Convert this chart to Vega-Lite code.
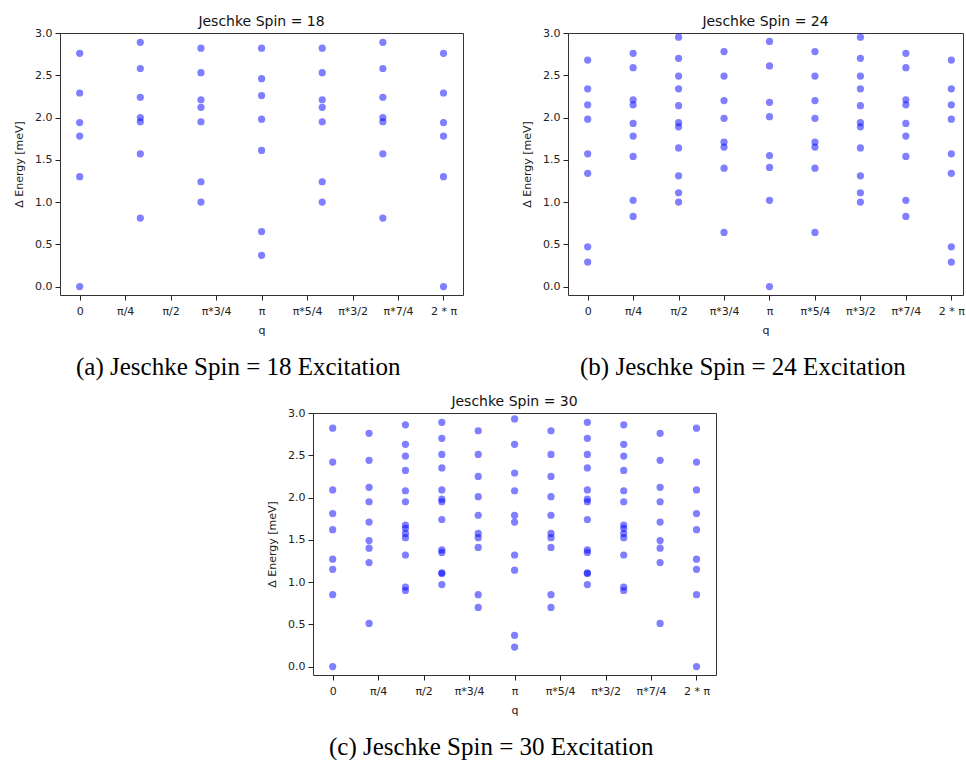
{
  "$schema": "https://vega.github.io/schema/vega-lite/v6.json",
  "padding": {"left": 13, "top": 14, "right": 0, "bottom": 0},
  "config": {
    "font": "DejaVu Sans",
    "axis": {"labelFont": "DejaVu Sans", "labelFontSize": 11, "labelColor": "#222", "tickColor": "#222", "domain": false, "grid": false, "titleFont": "DejaVu Sans", "titleFontSize": 11, "titleFontWeight": "normal", "titleColor": "#222", "tickSize": 5, "labelPadding": 3},
    "axisX": {"labelPadding": 5, "titlePadding": 8},
    "view": {"stroke": "#333", "strokeWidth": 1},
    "title": {"font": "DejaVu Sans", "fontSize": 14, "fontWeight": "normal", "color": "#111"},
    "concat": {"spacing": 0}
  },
  "data": {"values": [
    {"spin": 18, "q": 0, "E": 3.04}, {"spin": 18, "q": 0, "E": 2.76}, {"spin": 18, "q": 0, "E": 2.29}, {"spin": 18, "q": 0, "E": 1.94}, {"spin": 18, "q": 0, "E": 1.78}, {"spin": 18, "q": 0, "E": 1.30}, {"spin": 18, "q": 0, "E": 0.0},
    {"spin": 18, "q": 1.0472, "E": 2.89}, {"spin": 18, "q": 1.0472, "E": 2.58}, {"spin": 18, "q": 1.0472, "E": 2.24}, {"spin": 18, "q": 1.0472, "E": 2.0}, {"spin": 18, "q": 1.0472, "E": 1.95}, {"spin": 18, "q": 1.0472, "E": 1.57}, {"spin": 18, "q": 1.0472, "E": 0.81},
    {"spin": 18, "q": 2.0944, "E": 2.82}, {"spin": 18, "q": 2.0944, "E": 2.53}, {"spin": 18, "q": 2.0944, "E": 2.21}, {"spin": 18, "q": 2.0944, "E": 2.12}, {"spin": 18, "q": 2.0944, "E": 1.95}, {"spin": 18, "q": 2.0944, "E": 1.24}, {"spin": 18, "q": 2.0944, "E": 1.0},
    {"spin": 18, "q": 3.1416, "E": 2.82}, {"spin": 18, "q": 3.1416, "E": 2.46}, {"spin": 18, "q": 3.1416, "E": 2.26}, {"spin": 18, "q": 3.1416, "E": 1.98}, {"spin": 18, "q": 3.1416, "E": 1.61}, {"spin": 18, "q": 3.1416, "E": 0.65}, {"spin": 18, "q": 3.1416, "E": 0.37},
    {"spin": 18, "q": 4.1888, "E": 2.82}, {"spin": 18, "q": 4.1888, "E": 2.53}, {"spin": 18, "q": 4.1888, "E": 2.21}, {"spin": 18, "q": 4.1888, "E": 2.12}, {"spin": 18, "q": 4.1888, "E": 1.95}, {"spin": 18, "q": 4.1888, "E": 1.24}, {"spin": 18, "q": 4.1888, "E": 1.0},
    {"spin": 18, "q": 5.236, "E": 2.89}, {"spin": 18, "q": 5.236, "E": 2.58}, {"spin": 18, "q": 5.236, "E": 2.24}, {"spin": 18, "q": 5.236, "E": 2.0}, {"spin": 18, "q": 5.236, "E": 1.95}, {"spin": 18, "q": 5.236, "E": 1.57}, {"spin": 18, "q": 5.236, "E": 0.81},
    {"spin": 18, "q": 6.2832, "E": 3.04}, {"spin": 18, "q": 6.2832, "E": 2.76}, {"spin": 18, "q": 6.2832, "E": 2.29}, {"spin": 18, "q": 6.2832, "E": 1.94}, {"spin": 18, "q": 6.2832, "E": 1.78}, {"spin": 18, "q": 6.2832, "E": 1.30}, {"spin": 18, "q": 6.2832, "E": 0.0},

    {"spin": 24, "q": 0, "E": 3.04}, {"spin": 24, "q": 0, "E": 2.68}, {"spin": 24, "q": 0, "E": 2.34}, {"spin": 24, "q": 0, "E": 2.15}, {"spin": 24, "q": 0, "E": 1.98}, {"spin": 24, "q": 0, "E": 1.57}, {"spin": 24, "q": 0, "E": 1.34}, {"spin": 24, "q": 0, "E": 0.47}, {"spin": 24, "q": 0, "E": 0.29},
    {"spin": 24, "q": 0.7854, "E": 3.04}, {"spin": 24, "q": 0.7854, "E": 2.76}, {"spin": 24, "q": 0.7854, "E": 2.59}, {"spin": 24, "q": 0.7854, "E": 2.21}, {"spin": 24, "q": 0.7854, "E": 2.15}, {"spin": 24, "q": 0.7854, "E": 1.93}, {"spin": 24, "q": 0.7854, "E": 1.78}, {"spin": 24, "q": 0.7854, "E": 1.54}, {"spin": 24, "q": 0.7854, "E": 1.02}, {"spin": 24, "q": 0.7854, "E": 0.83},
    {"spin": 24, "q": 1.5708, "E": 2.95}, {"spin": 24, "q": 1.5708, "E": 2.70}, {"spin": 24, "q": 1.5708, "E": 2.49}, {"spin": 24, "q": 1.5708, "E": 2.34}, {"spin": 24, "q": 1.5708, "E": 2.14}, {"spin": 24, "q": 1.5708, "E": 1.94}, {"spin": 24, "q": 1.5708, "E": 1.89}, {"spin": 24, "q": 1.5708, "E": 1.64}, {"spin": 24, "q": 1.5708, "E": 1.31}, {"spin": 24, "q": 1.5708, "E": 1.11}, {"spin": 24, "q": 1.5708, "E": 1.0},
    {"spin": 24, "q": 2.3562, "E": 2.78}, {"spin": 24, "q": 2.3562, "E": 2.49}, {"spin": 24, "q": 2.3562, "E": 2.20}, {"spin": 24, "q": 2.3562, "E": 1.99}, {"spin": 24, "q": 2.3562, "E": 1.71}, {"spin": 24, "q": 2.3562, "E": 1.65}, {"spin": 24, "q": 2.3562, "E": 1.40}, {"spin": 24, "q": 2.3562, "E": 0.64},
    {"spin": 24, "q": 3.1416, "E": 2.90}, {"spin": 24, "q": 3.1416, "E": 2.61}, {"spin": 24, "q": 3.1416, "E": 2.18}, {"spin": 24, "q": 3.1416, "E": 2.01}, {"spin": 24, "q": 3.1416, "E": 1.55}, {"spin": 24, "q": 3.1416, "E": 1.41}, {"spin": 24, "q": 3.1416, "E": 1.02}, {"spin": 24, "q": 3.1416, "E": 0.0},
    {"spin": 24, "q": 3.927, "E": 2.78}, {"spin": 24, "q": 3.927, "E": 2.49}, {"spin": 24, "q": 3.927, "E": 2.20}, {"spin": 24, "q": 3.927, "E": 1.99}, {"spin": 24, "q": 3.927, "E": 1.71}, {"spin": 24, "q": 3.927, "E": 1.65}, {"spin": 24, "q": 3.927, "E": 1.40}, {"spin": 24, "q": 3.927, "E": 0.64},
    {"spin": 24, "q": 4.7124, "E": 2.95}, {"spin": 24, "q": 4.7124, "E": 2.70}, {"spin": 24, "q": 4.7124, "E": 2.49}, {"spin": 24, "q": 4.7124, "E": 2.34}, {"spin": 24, "q": 4.7124, "E": 2.14}, {"spin": 24, "q": 4.7124, "E": 1.94}, {"spin": 24, "q": 4.7124, "E": 1.89}, {"spin": 24, "q": 4.7124, "E": 1.64}, {"spin": 24, "q": 4.7124, "E": 1.31}, {"spin": 24, "q": 4.7124, "E": 1.11}, {"spin": 24, "q": 4.7124, "E": 1.0},
    {"spin": 24, "q": 5.4978, "E": 3.04}, {"spin": 24, "q": 5.4978, "E": 2.76}, {"spin": 24, "q": 5.4978, "E": 2.59}, {"spin": 24, "q": 5.4978, "E": 2.21}, {"spin": 24, "q": 5.4978, "E": 2.15}, {"spin": 24, "q": 5.4978, "E": 1.93}, {"spin": 24, "q": 5.4978, "E": 1.78}, {"spin": 24, "q": 5.4978, "E": 1.54}, {"spin": 24, "q": 5.4978, "E": 1.02}, {"spin": 24, "q": 5.4978, "E": 0.83},
    {"spin": 24, "q": 6.2832, "E": 3.04}, {"spin": 24, "q": 6.2832, "E": 2.68}, {"spin": 24, "q": 6.2832, "E": 2.34}, {"spin": 24, "q": 6.2832, "E": 2.15}, {"spin": 24, "q": 6.2832, "E": 1.98}, {"spin": 24, "q": 6.2832, "E": 1.57}, {"spin": 24, "q": 6.2832, "E": 1.34}, {"spin": 24, "q": 6.2832, "E": 0.47}, {"spin": 24, "q": 6.2832, "E": 0.29},

    {"spin": 30, "q": 0, "E": 2.82}, {"spin": 30, "q": 0, "E": 2.42}, {"spin": 30, "q": 0, "E": 2.09}, {"spin": 30, "q": 0, "E": 1.81}, {"spin": 30, "q": 0, "E": 1.62}, {"spin": 30, "q": 0, "E": 1.27}, {"spin": 30, "q": 0, "E": 1.15}, {"spin": 30, "q": 0, "E": 0.85}, {"spin": 30, "q": 0, "E": 0.0},
    {"spin": 30, "q": 0.6283, "E": 2.76}, {"spin": 30, "q": 0.6283, "E": 2.44}, {"spin": 30, "q": 0.6283, "E": 2.12}, {"spin": 30, "q": 0.6283, "E": 1.95}, {"spin": 30, "q": 0.6283, "E": 1.71}, {"spin": 30, "q": 0.6283, "E": 1.49}, {"spin": 30, "q": 0.6283, "E": 1.40}, {"spin": 30, "q": 0.6283, "E": 1.23}, {"spin": 30, "q": 0.6283, "E": 0.51},
    {"spin": 30, "q": 1.2566, "E": 2.86}, {"spin": 30, "q": 1.2566, "E": 2.63}, {"spin": 30, "q": 1.2566, "E": 2.49}, {"spin": 30, "q": 1.2566, "E": 2.32}, {"spin": 30, "q": 1.2566, "E": 2.08}, {"spin": 30, "q": 1.2566, "E": 1.95}, {"spin": 30, "q": 1.2566, "E": 1.675}, {"spin": 30, "q": 1.2566, "E": 1.635}, {"spin": 30, "q": 1.2566, "E": 1.575}, {"spin": 30, "q": 1.2566, "E": 1.525}, {"spin": 30, "q": 1.2566, "E": 1.32}, {"spin": 30, "q": 1.2566, "E": 0.94}, {"spin": 30, "q": 1.2566, "E": 0.90},
    {"spin": 30, "q": 1.885, "E": 2.89}, {"spin": 30, "q": 1.885, "E": 2.70}, {"spin": 30, "q": 1.885, "E": 2.51}, {"spin": 30, "q": 1.885, "E": 2.35}, {"spin": 30, "q": 1.885, "E": 2.09}, {"spin": 30, "q": 1.885, "E": 1.98}, {"spin": 30, "q": 1.885, "E": 1.95}, {"spin": 30, "q": 1.885, "E": 1.74}, {"spin": 30, "q": 1.885, "E": 1.38}, {"spin": 30, "q": 1.885, "E": 1.35}, {"spin": 30, "q": 1.885, "E": 1.11}, {"spin": 30, "q": 1.885, "E": 1.10}, {"spin": 30, "q": 1.885, "E": 0.97},
    {"spin": 30, "q": 2.5133, "E": 2.79}, {"spin": 30, "q": 2.5133, "E": 2.51}, {"spin": 30, "q": 2.5133, "E": 2.25}, {"spin": 30, "q": 2.5133, "E": 2.01}, {"spin": 30, "q": 2.5133, "E": 1.79}, {"spin": 30, "q": 2.5133, "E": 1.575}, {"spin": 30, "q": 2.5133, "E": 1.525}, {"spin": 30, "q": 2.5133, "E": 1.41}, {"spin": 30, "q": 2.5133, "E": 0.85}, {"spin": 30, "q": 2.5133, "E": 0.70},
    {"spin": 30, "q": 3.1416, "E": 2.93}, {"spin": 30, "q": 3.1416, "E": 2.63}, {"spin": 30, "q": 3.1416, "E": 2.29}, {"spin": 30, "q": 3.1416, "E": 2.08}, {"spin": 30, "q": 3.1416, "E": 1.79}, {"spin": 30, "q": 3.1416, "E": 1.71}, {"spin": 30, "q": 3.1416, "E": 1.32}, {"spin": 30, "q": 3.1416, "E": 1.14}, {"spin": 30, "q": 3.1416, "E": 0.37}, {"spin": 30, "q": 3.1416, "E": 0.23},
    {"spin": 30, "q": 3.7699, "E": 2.79}, {"spin": 30, "q": 3.7699, "E": 2.51}, {"spin": 30, "q": 3.7699, "E": 2.25}, {"spin": 30, "q": 3.7699, "E": 2.01}, {"spin": 30, "q": 3.7699, "E": 1.79}, {"spin": 30, "q": 3.7699, "E": 1.575}, {"spin": 30, "q": 3.7699, "E": 1.525}, {"spin": 30, "q": 3.7699, "E": 1.41}, {"spin": 30, "q": 3.7699, "E": 0.85}, {"spin": 30, "q": 3.7699, "E": 0.70},
    {"spin": 30, "q": 4.3982, "E": 2.89}, {"spin": 30, "q": 4.3982, "E": 2.70}, {"spin": 30, "q": 4.3982, "E": 2.51}, {"spin": 30, "q": 4.3982, "E": 2.35}, {"spin": 30, "q": 4.3982, "E": 2.09}, {"spin": 30, "q": 4.3982, "E": 1.98}, {"spin": 30, "q": 4.3982, "E": 1.95}, {"spin": 30, "q": 4.3982, "E": 1.74}, {"spin": 30, "q": 4.3982, "E": 1.38}, {"spin": 30, "q": 4.3982, "E": 1.35}, {"spin": 30, "q": 4.3982, "E": 1.11}, {"spin": 30, "q": 4.3982, "E": 1.10}, {"spin": 30, "q": 4.3982, "E": 0.97},
    {"spin": 30, "q": 5.0265, "E": 2.86}, {"spin": 30, "q": 5.0265, "E": 2.63}, {"spin": 30, "q": 5.0265, "E": 2.49}, {"spin": 30, "q": 5.0265, "E": 2.32}, {"spin": 30, "q": 5.0265, "E": 2.08}, {"spin": 30, "q": 5.0265, "E": 1.95}, {"spin": 30, "q": 5.0265, "E": 1.675}, {"spin": 30, "q": 5.0265, "E": 1.635}, {"spin": 30, "q": 5.0265, "E": 1.575}, {"spin": 30, "q": 5.0265, "E": 1.525}, {"spin": 30, "q": 5.0265, "E": 1.32}, {"spin": 30, "q": 5.0265, "E": 0.94}, {"spin": 30, "q": 5.0265, "E": 0.90},
    {"spin": 30, "q": 5.6549, "E": 2.76}, {"spin": 30, "q": 5.6549, "E": 2.44}, {"spin": 30, "q": 5.6549, "E": 2.12}, {"spin": 30, "q": 5.6549, "E": 1.95}, {"spin": 30, "q": 5.6549, "E": 1.71}, {"spin": 30, "q": 5.6549, "E": 1.49}, {"spin": 30, "q": 5.6549, "E": 1.40}, {"spin": 30, "q": 5.6549, "E": 1.23}, {"spin": 30, "q": 5.6549, "E": 0.51},
    {"spin": 30, "q": 6.2832, "E": 2.82}, {"spin": 30, "q": 6.2832, "E": 2.42}, {"spin": 30, "q": 6.2832, "E": 2.09}, {"spin": 30, "q": 6.2832, "E": 1.81}, {"spin": 30, "q": 6.2832, "E": 1.62}, {"spin": 30, "q": 6.2832, "E": 1.27}, {"spin": 30, "q": 6.2832, "E": 1.15}, {"spin": 30, "q": 6.2832, "E": 0.85}, {"spin": 30, "q": 6.2832, "E": 0.0}
  ]},
  "spacing": 14,
  "vconcat": [
    {
      "spacing": 57,
      "hconcat": [
        {
          "title": {"text": "(a) Jeschke Spin = 18 Excitation", "orient": "bottom", "anchor": "middle", "font": "Liberation Serif", "fontSize": 25, "color": "#000", "offset": 19},
          "vconcat": [
            {
              "title": {"text": "Jeschke Spin = 18", "frame": "group", "anchor": "middle", "offset": -2},
              "width": 403, "height": 262,
              "transform": [{"filter": "datum.spin == 18"}],
              "mark": {"type": "circle", "size": 52, "color": "#0000ff", "opacity": 0.5, "clip": true},
              "encoding": {
                "x": {"field": "q", "type": "quantitative", "scale": {"domain": [-0.34, 6.62], "nice": false, "zero": false},
                  "axis": {"title": "q", "values": [0, 0.7853981634, 1.5707963268, 2.3561944902, 3.1415926536, 3.926990817, 4.7123889804, 5.4977871438, 6.2831853072],
                    "labelExpr": "['0','π/4','π/2','π*3/4','π','π*5/4','π*3/2','π*7/4','2 * π'][round(datum.value*4/PI)]"}},
                "y": {"field": "E", "type": "quantitative", "scale": {"domain": [-0.1, 3.0], "nice": false, "zero": false},
                  "axis": {"title": "Δ Energy [meV]", "values": [0, 0.5, 1, 1.5, 2, 2.5, 3], "format": ".1f", "titlePadding": 10}}
              }
            }
          ]
        },
        {
          "title": {"text": "(b) Jeschke Spin = 24 Excitation", "orient": "bottom", "anchor": "middle", "font": "Liberation Serif", "fontSize": 25, "color": "#000", "offset": 19},
          "vconcat": [
            {
              "title": {"text": "Jeschke Spin = 24", "frame": "group", "anchor": "middle", "offset": -2},
              "width": 395, "height": 262,
              "transform": [{"filter": "datum.spin == 24"}],
              "mark": {"type": "circle", "size": 52, "color": "#0000ff", "opacity": 0.5, "clip": true},
              "encoding": {
                "x": {"field": "q", "type": "quantitative", "scale": {"domain": [-0.34, 6.485], "nice": false, "zero": false},
                  "axis": {"title": "q", "values": [0, 0.7853981634, 1.5707963268, 2.3561944902, 3.1415926536, 3.926990817, 4.7123889804, 5.4977871438, 6.2831853072],
                    "labelExpr": "['0','π/4','π/2','π*3/4','π','π*5/4','π*3/2','π*7/4','2 * π'][round(datum.value*4/PI)]"}},
                "y": {"field": "E", "type": "quantitative", "scale": {"domain": [-0.1, 3.0], "nice": false, "zero": false},
                  "axis": {"title": "Δ Energy [meV]", "values": [0, 0.5, 1, 1.5, 2, 2.5, 3], "format": ".1f", "titlePadding": 10}}
              }
            }
          ]
        }
      ]
    },
    {
      "spacing": 0,
      "hconcat": [
        {
          "width": 206, "height": 10,
          "view": {"stroke": null},
          "transform": [{"filter": "datum.spin == 0"}],
          "mark": {"type": "point", "opacity": 0},
          "encoding": {}
        },
        {
          "title": {"text": "(c) Jeschke Spin = 30 Excitation", "orient": "bottom", "anchor": "middle", "font": "Liberation Serif", "fontSize": 25, "color": "#000", "offset": 19},
          "vconcat": [
            {
              "title": {"text": "Jeschke Spin = 30", "frame": "group", "anchor": "middle", "offset": -2},
              "width": 403, "height": 262,
              "transform": [{"filter": "datum.spin == 30"}],
              "mark": {"type": "circle", "size": 52, "color": "#0000ff", "opacity": 0.5, "clip": true},
              "encoding": {
                "x": {"field": "q", "type": "quantitative", "scale": {"domain": [-0.34, 6.62], "nice": false, "zero": false},
                  "axis": {"title": "q", "values": [0, 0.7853981634, 1.5707963268, 2.3561944902, 3.1415926536, 3.926990817, 4.7123889804, 5.4977871438, 6.2831853072],
                    "labelExpr": "['0','π/4','π/2','π*3/4','π','π*5/4','π*3/2','π*7/4','2 * π'][round(datum.value*4/PI)]"}},
                "y": {"field": "E", "type": "quantitative", "scale": {"domain": [-0.1, 3.0], "nice": false, "zero": false},
                  "axis": {"title": "Δ Energy [meV]", "values": [0, 0.5, 1, 1.5, 2, 2.5, 3], "format": ".1f", "titlePadding": 10}}
              }
            }
          ]
        }
      ]
    }
  ]
}
